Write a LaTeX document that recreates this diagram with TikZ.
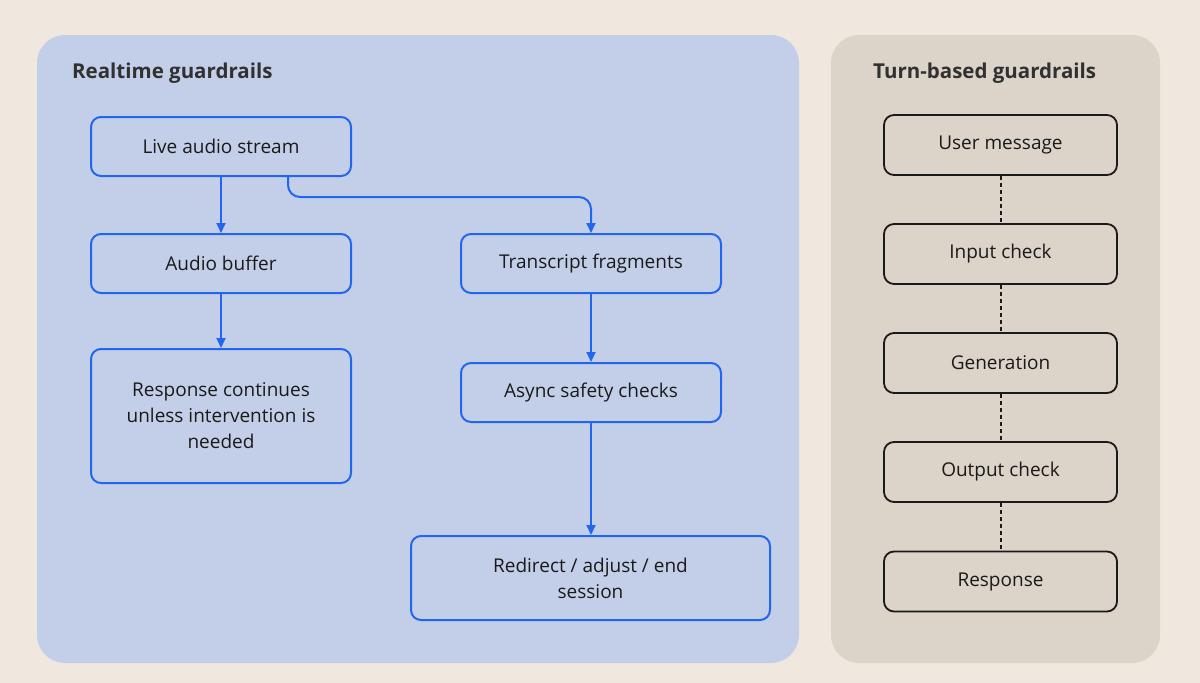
\documentclass[tikz,border=0pt]{standalone}
\usepackage{fontspec}
\setmainfont{Open Sans}
\usetikzlibrary{arrows.meta}
\definecolor{bg}{HTML}{F0E8DF}
\definecolor{leftp}{HTML}{C3CFE8}
\definecolor{rightp}{HTML}{DCD3C9}
\definecolor{blu}{HTML}{2266F0}
\definecolor{ink}{HTML}{1A1A1A}
\tikzset{
  bbox/.style={draw=blu, line width=2pt, rounded corners=10pt, minimum width=260pt, minimum height=59pt,
    align=center, font=\fontsize{19}{26}\selectfont, text=ink, inner sep=0pt},
  gbox/.style={draw=ink, line width=1.8pt, rounded corners=10pt, minimum width=233pt, minimum height=60pt,
    align=center, font=\fontsize{19}{26}\selectfont, text=ink, inner sep=0pt},
  conn/.style={draw=blu, line width=2pt, -{Triangle[length=10pt,width=9pt]}},
  dotl/.style={draw=ink, line width=2pt, dash pattern=on 4pt off 3pt},
  paneltitle/.style={anchor=west, font=\bfseries\fontsize{20.5}{24}\selectfont, text=ink!90, inner sep=0pt}
}
\begin{document}
\begin{tikzpicture}[x=1pt,y=-1pt]
\fill[bg] (0,0) rectangle (1200,683);
\useasboundingbox (0,0) rectangle (1200,683);
\fill[leftp, rounded corners=28pt] (37,35) rectangle (799,663);
\fill[rightp, rounded corners=28pt] (831,35) rectangle (1160,663);

\node[paneltitle] (t1) at (72,73) {Realtime guardrails};
\node[paneltitle] (t2) at (873,73) {Turn-based guardrails};

\node[bbox] (live) at (221,146.5) {Live audio stream};
\node[bbox] (buf) at (221,263.5) {Audio buffer};
\node[bbox, minimum height=134pt] (resp) at (221,416) {Response continues\\unless intervention is\\needed};
\node[bbox] (trans) at (591,263.5) {Transcript fragments};
\node[bbox] (async) at (591,392.5) {Async safety checks};
\node[bbox, minimum width=359pt, minimum height=84pt] (redir) at (590.5,578) {Redirect / adjust / end\\session};

\draw[conn] (live) -- (buf);
\draw[conn] (buf) -- (resp);
\draw[conn, rounded corners=12pt] ([xshift=67pt]live.south) |- ([yshift=36pt]trans.north) -- (trans.north);
\draw[conn] (trans) -- (async);
\draw[conn] (async.south) -- (async.south |- redir.north);

\node[gbox] (um) at (1000.5,145) {User message};
\node[gbox] (ic) at (1000.5,254) {Input check};
\node[gbox] (gen) at (1000.5,363) {Generation};
\node[gbox] (oc) at (1000.5,472) {Output check};
\node[gbox] (rs) at (1000.5,581.5) {Response};

\draw[dotl] (um) -- (ic);
\draw[dotl] (ic) -- (gen);
\draw[dotl] (gen) -- (oc);
\draw[dotl] (oc) -- (rs);
\end{tikzpicture}
\end{document}
